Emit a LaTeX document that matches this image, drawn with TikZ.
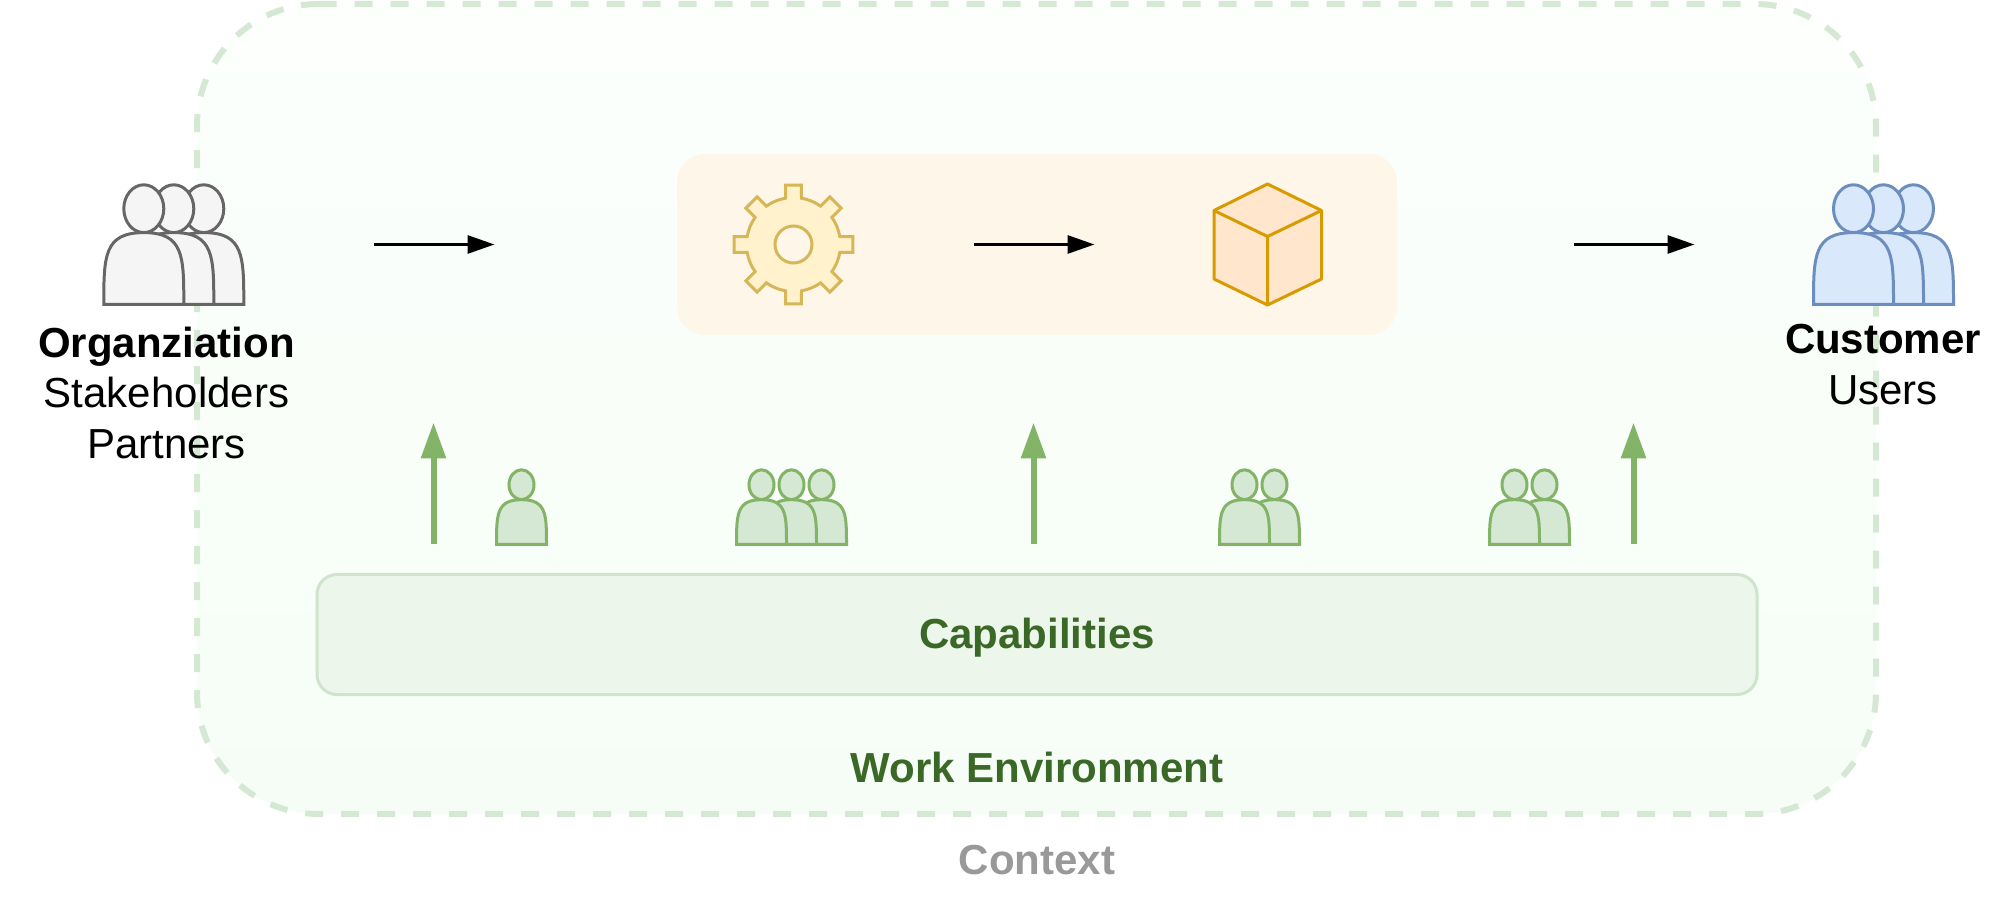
\documentclass[tikz,border=0pt]{standalone}
\usepackage{fontspec}
\setmainfont{Liberation Sans}
\usetikzlibrary{arrows.meta}

\definecolor{envline}{HTML}{D5E8D4}
\definecolor{envtop}{HTML}{FCFFFC}
\definecolor{envbottom}{HTML}{F6FDF6}
\definecolor{capfill}{HTML}{ECF6EB}
\definecolor{capline}{HTML}{CFE4CD}
\definecolor{capfont}{HTML}{3A6826}
\definecolor{procfill}{HTML}{FEF6E9}
\definecolor{greenline}{HTML}{82B366}
\definecolor{greenfill}{HTML}{D5E8D4}
\definecolor{greyline}{HTML}{666666}
\definecolor{greyfill}{HTML}{F5F5F5}
\definecolor{blueline}{HTML}{6C8EBF}
\definecolor{bluefill}{HTML}{DAE8FC}
\definecolor{gearline}{HTML}{D6B656}
\definecolor{gearfill}{HTML}{FFF2CC}
\definecolor{cubeline}{HTML}{D79B00}
\definecolor{cubefill}{HTML}{FFE6CC}

\tikzset{
	bigfont/.style={font=\fontsize{21}{25.3}\selectfont},
	headfont/.style={font=\bfseries\fontsize{21}{25.3}\selectfont},
	envbox/.style={draw=envline,line width=3pt,dash pattern=on 9pt off 9pt,top color=envtop,bottom color=envbottom},
	capbox/.style={rectangle,draw=capline,line width=1.5pt,fill=capfill,rounded corners=10pt,minimum width=720pt,minimum height=60pt,outer sep=0pt},
	procbox/.style={rectangle,fill=procfill,rounded corners=14pt,minimum width=360pt,minimum height=90.5pt,outer sep=0pt},
	flow/.style={line width=1.5pt,-{Triangle[length=13.5pt,width=9pt]}},
	uplift/.style={line width=3pt,greenline,-{Triangle[length=18pt,width=12pt]}},
	greyman/.style={draw=greyline,fill=greyfill,line width=1.5pt},
	blueman/.style={draw=blueline,fill=bluefill,line width=1.5pt},
	greenman/.style={draw=greenline,fill=greenfill,line width=1.5pt},
	pics/actorman/.style 2 args={code={
		\path[pic actions] (0.5*#1,0.2*#2) ellipse [x radius=0.25*#1,y radius=0.2*#2];
		\path[pic actions] (0,#2) .. controls (0,0.6*#2) and (0,0.4*#2) .. (0.5*#1,0.4*#2) .. controls (#1,0.4*#2) and (#1,0.6*#2) .. (#1,#2) -- cycle;
	}}
}

\begin{document}
\begin{tikzpicture}[x=0.5pt,y=-0.5pt]
	\useasboundingbox (0,0) rectangle (2004,903);

	\path[envbox] (318.5,4) -- (1754.5,4) arc[start angle=-90,end angle=0,radius=121.5]
		-- (1876,692.5) arc[start angle=0,end angle=90,radius=121.5]
		-- (318.5,814) arc[start angle=90,end angle=180,radius=121.5]
		-- (197,125.5) arc[start angle=180,end angle=270,radius=121.5] -- cycle;
	\node[procbox] (process) at (1037,244.5) {};
	\node[capbox] (capabilities) at (1037,634.5) {};
	\node[headfont,text=capfont,anchor=base] (caplabel) at (1037,648.5) {Capabilities};
	\node[headfont,text=capfont,anchor=base] (envlabel) at (1037,782.5) {Work Environment};
	\node[headfont,text=black!40,anchor=base] (contextlabel) at (1037,874) {Context};

	%people along the top
	\foreach \i in {2,1,0}
		\pic[greyman] at (103.8+30*\i,184.8) {actorman={80}{119.5}};
	\foreach \i in {2,1,0}
		\pic[blueman] at (1813.5+30*\i,184.8) {actorman={80}{119.5}};

	\node[bigfont,align=center,anchor=base] (orglabel) at (166.5,458.5) {\textbf{Organziation}\\Stakeholders\\Partners};
	\node[bigfont,align=center,anchor=base] (custlabel) at (1883,404.5) {\textbf{Customer}\\Users};

	%people on the capabilities
	\pic[greenman] at (496.5,469.8) {actorman={50}{74.7}};
	\foreach \i in {2,1,0}
		\pic[greenman] at (736.5+30*\i,469.8) {actorman={50}{74.7}};
	\foreach \i in {1,0}
		\pic[greenman] at (1219.5+30*\i,469.8) {actorman={50}{74.7}};
	\foreach \i in {1,0}
		\pic[greenman] at (1489.5+30*\i,469.8) {actorman={50}{74.7}};

	%gear
	\draw[shift={(793.5,244.5)},draw=gearline,fill=gearfill,line width=1.5pt,even odd rule]
		(9.8:47) \foreach \a in {0,45,...,315}{
			arc[start angle=\a+9.8,end angle=\a+35.2,radius=47]
			-- (\a+37.4:60) -- (\a+52.6:60) -- (\a+54.8:47)
		} -- cycle
		(0,0) circle [radius=18.5];

	%cube
	\draw[draw=cubeline,fill=cubefill,line width=1.5pt,line join=round]
		(1267.5,184) -- (1321.5,210.5) -- (1321.5,279) -- (1267.5,305) -- (1214,279) -- (1214,210.5) -- cycle;
	\draw[draw=cubeline,line width=1.5pt,line join=round]
		(1214,210.5) -- (1267.5,236.5) -- (1321.5,210.5) (1267.5,236.5) -- (1267.5,305);

	%arrows
	\coordinate (orgout) at (373.5,244.5);
	\coordinate (procin) at (494.5,244.5);
	\coordinate (gearout) at (973.5,244.5);
	\coordinate (cubein) at (1094.5,244.5);
	\coordinate (procout) at (1573.5,244.5);
	\coordinate (custin) at (1694.5,244.5);
	\draw[flow] (orgout) -- (procin);
	\draw[flow] (gearout) -- (cubein);
	\draw[flow] (procout) -- (custin);

	\foreach \n/\x in {left/433.5,mid/1033.5,right/1633.5}{
		\coordinate (lift\n a) at (\x,544.5);
		\coordinate (lift\n b) at (\x,422.5);
		\draw[uplift] (lift\n a) -- (lift\n b);
	}
\end{tikzpicture}
\end{document}
